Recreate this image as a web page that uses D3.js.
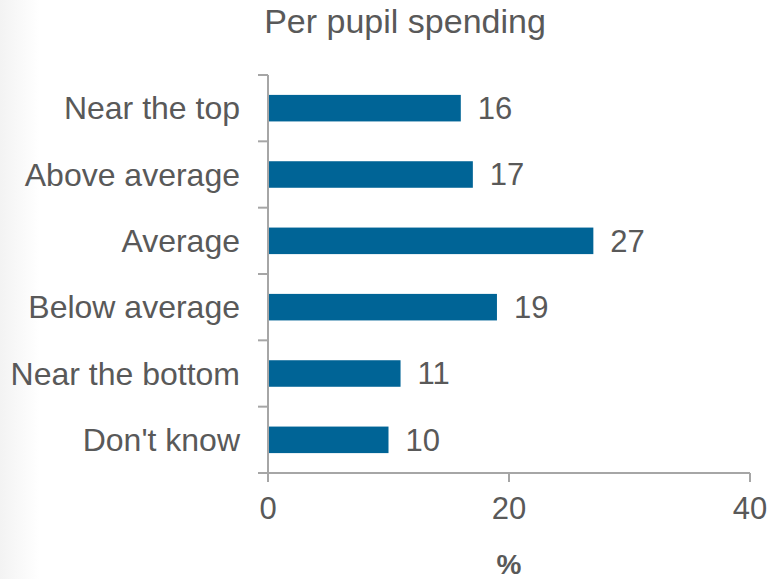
<!DOCTYPE html>
<html><head><meta charset="utf-8">
<script src="https://cdn.jsdelivr.net/npm/d3@7"></script>
<style>body{margin:0;background:#fff}svg{display:block}text{font-family:"Liberation Sans",Arial,sans-serif;fill:#595959}</style>
</head><body>
<script>
const categories = ["Near the top","Above average","Average","Below average","Near the bottom","Don't know"];
const values = [16,17,27,19,11,10];
const xTicks = [0,20,40];
const title = "Per pupil spending";
const xLabel = "%";

const W=771,H=579;
const svg=d3.select("body").append("svg").attr("width",W).attr("height",H);
const defs=svg.append("defs");
const g1=defs.append("linearGradient").attr("id","lg").attr("x1","0").attr("x2","1");
g1.append("stop").attr("offset","0").attr("stop-color","#f3f3f3");
g1.append("stop").attr("offset","1").attr("stop-color","#ffffff");
svg.append("rect").attr("x",0).attr("y",0).attr("width",40).attr("height",H).attr("fill","url(#lg)");

const x=d3.scaleLinear().domain([0,40]).range([268,750]);
const y=d3.scaleBand().domain(categories).range([75,473]).paddingInner(0.6).paddingOuter(0.3);
const axisColor="#a6a6a6";

// bars
svg.selectAll("rect.bar").data(values).join("rect").attr("class","bar")
  .attr("x",x(0)).attr("y",(d,i)=>y(categories[i]))
  .attr("width",d=>x(d)-x(0)).attr("height",y.bandwidth())
  .attr("fill","#006496");

// y axis line and ticks
const yEdges=d3.range(categories.length+1).map(i=>75+i*(473-75)/categories.length);
svg.append("line").attr("x1",x(0)).attr("x2",x(0)).attr("y1",75).attr("y2",473).attr("stroke",axisColor).attr("stroke-width",2);
svg.selectAll("line.yt").data(yEdges).join("line").attr("class","yt")
  .attr("x1",258).attr("x2",x(0)).attr("y1",d=>d).attr("y2",d=>d).attr("stroke",axisColor).attr("stroke-width",2);
// x axis
svg.append("line").attr("x1",x(0)).attr("x2",x(40)).attr("y1",473).attr("y2",473).attr("stroke",axisColor).attr("stroke-width",2);
svg.selectAll("line.xt").data(xTicks).join("line").attr("class","xt")
  .attr("x1",d=>x(d)).attr("x2",d=>x(d)).attr("y1",473).attr("y2",482).attr("stroke",axisColor).attr("stroke-width",2);
svg.selectAll("text.xtl").data(xTicks).join("text").attr("class","xtl")
  .attr("x",d=>x(d)).attr("y",519).attr("text-anchor","middle").attr("font-size",31).text(d=>d);

// category labels
svg.selectAll("text.cat").data(categories).join("text").attr("class","cat")
  .attr("x",240).attr("y",d=>y(d)+y.bandwidth()/2).attr("dy","0.35em")
  .attr("text-anchor","end").attr("font-size",32).text(d=>d);
// value labels
svg.selectAll("text.val").data(values).join("text").attr("class","val")
  .attr("x",d=>x(d)+17).attr("y",(d,i)=>y(categories[i])+y.bandwidth()/2).attr("dy","0.35em")
  .attr("font-size",31).text(d=>d);

svg.append("text").attr("x",405).attr("y",33).attr("text-anchor","middle").attr("font-size",34).text(title);
svg.append("text").attr("x",x(20)).attr("y",574).attr("text-anchor","middle").attr("font-size",28).attr("font-weight","bold").text(xLabel);
</script>
</body></html>
